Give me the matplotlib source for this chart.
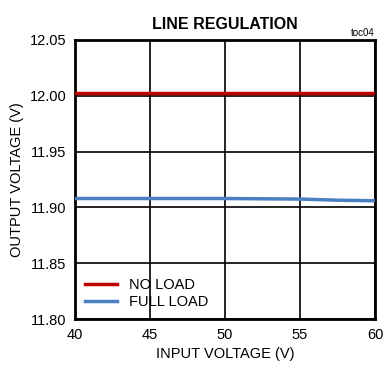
import matplotlib
matplotlib.use("Agg")
import matplotlib.pyplot as plt

plt.rcParams["font.family"] = ["Liberation Sans", "DejaVu Sans"]

vin = [40, 45, 50, 55, 57.5, 60]
no_load = [12.002, 12.002, 12.002, 12.002, 12.002, 12.002]
full_load = [11.908, 11.908, 11.908, 11.9075, 11.9065, 11.906]

fig = plt.figure(figsize=(3.85, 3.69), dpi=100)
ax = fig.add_axes([0.195, 0.135, 0.779, 0.757])

ax.plot(vin, no_load, color="#c00000", lw=2.5, label="NO LOAD", zorder=3)
ax.plot(vin, full_load, color="#4a7fc1", lw=2.5, label="FULL LOAD", zorder=3)

ax.set_xlim(40, 60)
ax.set_ylim(11.80, 12.05)
ax.set_xticks([40, 45, 50, 55, 60])
ax.set_yticks([11.80, 11.85, 11.90, 11.95, 12.00, 12.05])
ax.set_yticklabels(["11.80", "11.85", "11.90", "11.95", "12.00", "12.05"])
ax.grid(True, color="black", lw=1.2)
ax.tick_params(length=0, labelsize=10.5, pad=6)
for s in ax.spines.values():
    s.set_linewidth(2)

ax.set_xlabel("INPUT VOLTAGE (V)", fontsize=10.5)
ax.set_ylabel("OUTPUT VOLTAGE (V)", fontsize=10.5)
ax.set_title("LINE REGULATION", fontsize=11.5, weight="bold", pad=8)
ax.text(1.0, 1.005, "toc04", transform=ax.transAxes, ha="right", va="bottom", fontsize=7)

leg = ax.legend(loc="lower left", frameon=False, fontsize=10.5, handlelength=2.2,
                borderaxespad=0.3, labelspacing=0.2)

fig.savefig("out.png", dpi=100)
